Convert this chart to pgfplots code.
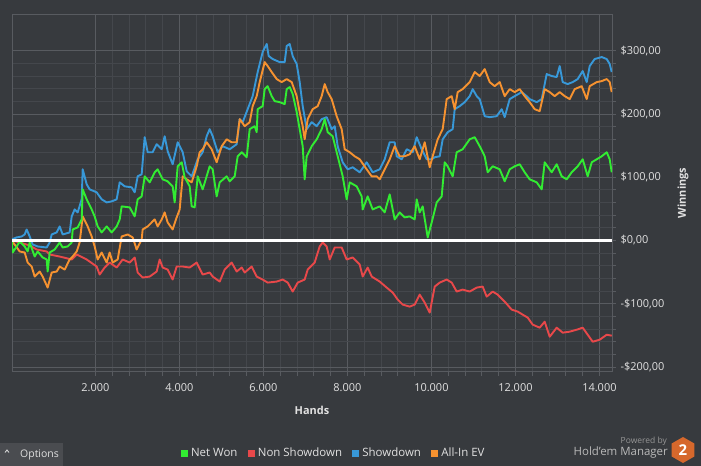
\documentclass[border=0pt]{standalone}
\usepackage{fontspec}
\setmainfont{Open Sans}
\usepackage{pgfplots}
\pgfplotsset{compat=1.18}
\definecolor{bg}{RGB}{55,58,62}
\definecolor{gridminor}{RGB}{68,71,76}
\definecolor{gridmajor}{RGB}{88,91,96}
\definecolor{txt}{RGB}{225,225,225}
\definecolor{cgreen}{RGB}{50,236,50}
\definecolor{cred}{RGB}{232,72,74}
\definecolor{cblue}{RGB}{56,152,216}
\definecolor{corange}{RGB}{246,146,48}
\definecolor{btn}{RGB}{74,76,80}
\definecolor{hm}{RGB}{214,104,44}
\begin{document}
\begin{tikzpicture}[x=1bp,y=1bp]
\fill[bg] (0,0) rectangle (701,466);
\path[use as bounding box] (0,0) rectangle (701,466);
\begin{axis}[
  at={(12bp,94.3bp)}, anchor=south west,
  scale only axis, width=600bp, height=357bp,
  xmin=15, xmax=14300, ymin=-207.5, ymax=357,
  scaled x ticks=false, scaled y ticks=false,
  axis line style={gridmajor, line width=0.9bp},
  grid=both,
  major grid style={gridmajor, line width=0.8bp},
  minor grid style={gridminor, line width=0.8bp},
  xtick={2000,4000,6000,8000,10000,12000,14000},
  xticklabels={2.000,4.000,6.000,8.000,10.000,12.000,14.000},
  minor x tick num=4,
  ytick={-200,-100,0,100,200,300},
  yticklabels={-\$200{,}00,-\$100{,}00,\$0{,}00,\$100{,}00,\$200{,}00,\$300{,}00},
  minor y tick num=4,
  xtick pos=bottom, ytick pos=right, yticklabel pos=right,
  tick align=outside, major tick length=4bp, minor tick length=4bp,
  tick style={gridmajor, line width=0.8bp},
  ticklabel style={font=\fontsize{11}{13}\selectfont, text=txt},
  xticklabel style={yshift=-4bp},
  yticklabel style={anchor=west, xshift=1bp},
  legend style={at={(0.536,-0.227)}, anchor=center, draw=none, fill=none,
    text=txt, font=\fontsize{11.5}{13}\selectfont,
    /tikz/every even column/.append style={column sep=8bp}},
  legend columns=4, legend cell align=left,
  legend image code/.code={\fill[#1] (0bp,-3bp) rectangle (6bp,3bp); \path (8bp,0bp);},
]
\addlegendimage{cgreen}\addlegendentry{Net Won}
\addlegendimage{cred}\addlegendentry{Non Showdown}
\addlegendimage{cblue}\addlegendentry{Showdown}
\addlegendimage{corange}\addlegendentry{All-In EV}

% Non Showdown
\addplot[cred, line width=1.9bp, line join=round, forget plot] coordinates {
(7,0) (198,-3.2) (436,-7.9) (602,-14.3) (840,-17.4) (912,-22.2) (1150,-25.4)
(1436,-30.1) (1555,-22.2) (1793,-30.1) (2031,-41.2) (2102,-53.9) (2221,-42.8)
(2340,-34.9) (2507,-42.8) (2650,-30.1) (2817,-34.9) (2936,-26.9) (3007,-50.7)
(3126,-58.6) (3293,-57.1) (3460,-49.1) (3531,-30.1) (3602,-42.8) (3721,-46)
(3840,-61.8) (3936,-41.2) (4079,-41.2) (4245,-42.8) (4412,-34.9) (4555,-53.9)
(4721,-50.7) (4793,-57.1) (4960,-65) (5079,-46) (5245,-34.9) (5364,-49.1)
(5483,-42.8) (5555,-50.7) (5721,-41.2) (5841,-57.1) (5983,-61.8) (6102,-66.6)
(6317,-65) (6460,-61.8) (6579,-66.6) (6698,-80.8) (6817,-66.6) (6983,-61.8)
(7055,-46) (7221,-34.9) (7340,-9.5) (7412,-3.2) (7507,-9.5) (7579,-30.1)
(7698,-11.1) (7864,-11.1) (7983,-30.1) (8126,-26.9) (8293,-38) (8364,-57.1)
(8483,-42.8) (8579,-57.1) (8769,-65) (8936,-74.5) (9079,-82.4) (9198,-93.5)
(9317,-101.4) (9483,-104.6) (9602,-101.4) (9721,-85.6) (9841,-98.3) (9960,-114.1)
(10079,-72.9) (10198,-66.6) (10364,-61.8) (10483,-66.6) (10602,-80.8) (10745,-77.7)
(10912,-80.8) (11079,-74.5) (11221,-72.9) (11317,-88.8) (11459,-80.8) (11578,-85.6)
(11745,-96.7) (11912,-109.4) (12055,-112.5) (12174,-117.3) (12293,-122) (12412,-133.1)
(12578,-137.9) (12697,-128.4) (12817,-152.2) (12983,-137.9) (13126,-145.8) (13293,-144.2)
(13459,-141.1) (13602,-137.9) (13721,-149) (13840,-160.1) (14007,-156.9) (14174,-149)
(14293,-150.6)
};

% Showdown
\addplot[cblue, line width=1.9bp, line join=round, forget plot] coordinates {
(7,1.6) (126,4.8) (245,6.3) (317,9.5) (364,17.4) (436,6.3) (507,-6.3) (626,-9.5)
(840,-11.1) (912,-3.2) (960,9.5) (1079,12.7) (1150,22.2) (1221,9.5) (1388,12.7)
(1436,38) (1507,49.1) (1579,44.4) (1674,65) (1698,112.5) (1793,88.8) (1864,80.8)
(2031,76.1) (2150,65) (2269,60.2) (2388,61.8) (2507,65) (2579,91.9) (2698,85.6)
(2864,84) (2936,76.1) (3007,101.4) (3102,104.6) (3174,163.3) (3245,139.5)
(3364,139.5) (3460,152.2) (3579,144.2) (3650,164.8) (3721,141.1) (3840,120.5)
(3960,155.3) (4079,139.5) (4174,109.4) (4293,101.4) (4436,128.4) (4555,139.5)
(4650,164.8) (4721,176) (4793,164.8) (4912,139.5) (5031,149) (5198,144.2)
(5364,152.2) (5436,191.8) (5507,187) (5626,207.6) (5745,228.2) (5864,266.3)
(5983,298) (6079,310.7) (6126,291.6) (6221,286.9) (6388,282) (6507,282)
(6555,307.5) (6626,310.7) (6698,291.6) (6793,279) (6864,250.4) (6936,212.4)
(7031,176) (7150,187) (7269,180.7) (7388,191.8) (7507,195) (7626,176)
(7698,180.7) (7769,149) (7888,123.6) (8007,112.5) (8126,115.7) (8293,107.8)
(8459,123.6) (8602,107.8) (8769,112.5) (8888,128.4) (9007,155.3) (9126,155.3)
(9174,133.1) (9293,128.4) (9412,144.2) (9555,139.5) (9650,163.3) (9769,144.2)
(9888,128.4) (10007,128.4) (10079,131.6) (10198,133.1) (10269,160) (10388,171.2)
(10507,176) (10555,207.6) (10674,212.4) (10793,218.7) (10912,228.2) (10983,239.3)
(11079,228.2) (11150,223.5) (11269,196.5) (11388,195) (11555,196.5) (11674,207.6)
(11745,195) (11864,223.5) (11983,228.2) (12150,234.6) (12269,228.2) (12340,223.5)
(12507,218.7) (12626,223.5) (12745,263.1) (12864,260) (12983,258.4) (13055,275.8)
(13126,250.4) (13245,247.3) (13364,250.4) (13483,255.2) (13602,267.9) (13698,250.4)
(13769,275.8) (13888,286.9) (14055,290) (14174,286.9) (14245,279) (14293,266.3)
};

% All-In EV
\addplot[corange, line width=1.9bp, line join=round, forget plot] coordinates {
(7,0) (198,-17.4) (317,-19) (388,-34.9) (483,-41.2) (555,-57.1) (674,-49.1)
(745,-57.1) (864,-74.5) (960,-50.7) (1079,-49.1) (1150,-41.2) (1269,-46)
(1388,-30.1) (1460,-25.4) (1555,-17.4) (1626,-3.2) (1698,38) (1817,22.2)
(1912,6.3) (1983,-9.5) (2055,-30.1) (2150,-19) (2269,-34.9) (2340,-19)
(2412,-34.9) (2531,-30.1) (2626,6.3) (2769,9.5) (2888,4.8) (2983,-14.3)
(3102,1.6) (3126,17.4) (3245,22.2) (3412,33.3) (3483,22.2) (3579,33.3)
(3650,44.4) (3721,28.5) (3840,17.4) (3936,36.5) (4007,49.1) (4079,101.4)
(4174,96.7) (4293,91.9) (4412,117.3) (4483,139.5) (4555,144.2) (4650,155.3)
(4769,144.2) (4888,123.6) (5007,149) (5126,160) (5245,155.3) (5364,155.3)
(5436,191.8) (5555,180.7) (5674,187) (5745,212.4) (5841,228.2) (5912,250.4)
(6031,282) (6102,275.8) (6198,266.3) (6317,255.2) (6436,250.4) (6555,255.2)
(6674,250.4) (6793,228.2) (6864,202.9) (6936,180.7) (6983,160) (7055,191.8)
(7174,207.6) (7293,212.4) (7388,228.2) (7460,247.3) (7531,234.6) (7626,223.5)
(7745,196.5) (7864,176) (7936,144.2) (8055,139.5) (8174,133.1) (8293,128.4)
(8459,112.5) (8579,101.4) (8698,101.4) (8769,96.7) (8888,112.5) (9007,128.4)
(9126,149) (9245,133.1) (9364,133.1) (9483,136.3) (9602,149) (9721,128.4)
(9841,155.3) (9960,115.7) (10031,133.1) (10150,160) (10269,176) (10364,223.5)
(10483,228.2) (10555,207.6) (10626,234.6) (10745,239.3) (10912,250.4) (11031,266.3)
(11150,260) (11269,271) (11388,250.4) (11507,244) (11626,250.4) (11745,228.2)
(11864,239.3) (11983,234.6) (12102,239.3) (12221,228.2) (12340,218.7) (12459,207.6)
(12578,204.5) (12697,239.3) (12817,234.6) (12936,228.2) (13055,234.6) (13174,228.2)
(13293,223.5) (13412,239.3) (13578,244) (13698,223.5) (13769,244) (13936,250.4)
(14055,252) (14174,255.2) (14245,250.4) (14293,234.6)
};

% Net Won
\addplot[cgreen, line width=1.9bp, line join=round, forget plot] coordinates {
(7,0) (31,-19) (126,-9.5) (198,-1.6) (317,-9.5) (388,-17.4) (436,-3.2) (555,-25.4)
(626,-17.4) (745,-26.9) (840,-30.1) (864,-49.1) (912,-19) (1031,-14.3) (1150,-3.2)
(1221,-11.1) (1340,-9.5) (1436,-3.2) (1460,17.4) (1579,20.6) (1674,33.3) (1698,80.8)
(1793,65) (1912,49.1) (1983,38) (2055,22.2) (2150,12.7) (2269,22.2) (2388,12.7)
(2507,22.2) (2579,33.3) (2626,53.9) (2817,52.3) (2936,38) (3007,65) (3102,69.7)
(3174,101.4) (3293,91.9) (3412,107.8) (3483,112.5) (3602,96.7) (3721,93.5)
(3840,85.6) (3888,60.2) (3960,117.3) (4055,123.6) (4126,99.9) (4245,85.6)
(4293,53.9) (4364,52.3) (4436,101.4) (4555,80.8) (4721,117.3) (4793,112.5)
(4888,69.7) (4960,91.9) (5126,101.4) (5198,93.5) (5317,101.4) (5388,133.1)
(5483,139.5) (5602,131.6) (5674,176) (5793,180.7) (5841,171.2) (5864,207.6)
(5983,212.4) (6031,239.3) (6102,244) (6198,228.2) (6269,220.3) (6388,218.7)
(6507,215.6) (6555,239.3) (6626,242.5) (6698,231.4) (6793,202.9) (6864,176)
(6936,149) (6983,96.7) (7031,133.1) (7150,149) (7269,160) (7388,176) (7460,191.8)
(7531,171.2) (7650,164.8) (7769,133.1) (7888,101.4) (7983,65) (8055,91.9)
(8221,85.6) (8340,69.7) (8364,49.1) (8483,69.7) (8602,49.1) (8769,53.9)
(8888,44.4) (9007,72.9) (9126,33.3) (9245,44.4) (9364,36.5) (9483,38)
(9602,33.3) (9650,65) (9721,44.4) (9793,53.9) (9912,4.8) (10007,28.5)
(10126,60.2) (10245,69.7) (10317,123.6) (10388,117.3) (10507,101.4) (10602,139.5)
(10745,144.2) (10912,160) (11031,163.3) (11150,149) (11269,133.1) (11340,107.8)
(11459,117.3) (11626,112.5) (11745,93.5) (11864,112.5) (11983,117.3) (12102,120.5)
(12221,107.8) (12340,96.7) (12507,91.9) (12626,80.8) (12697,123.6) (12864,107.8)
(12983,120.5) (13102,101.4) (13221,96.7) (13340,107.8) (13483,117.3) (13602,128.4)
(13721,101.4) (13817,123.6) (13936,128.4) (14055,133.1) (14174,139.5) (14245,128.4)
(14293,107.8)
};

% zero line
\addplot[white, line width=2.6bp, forget plot] coordinates {(15,0) (14300,0)};
\end{axis}

\node[text=txt, font=\bfseries\fontsize{11}{13}\selectfont] at (312,56) {Hands};
\node[text=txt, font=\bfseries\fontsize{11}{13}\selectfont, rotate=90] at (683,273) {Winnings};

% Options button
\fill[btn] (0,0) rectangle (62.6,23.3);
\draw[txt, line width=0.8bp] (5,13.5) -- (7,16) -- (9,13.5);
\node[text=txt, font=\fontsize{10.5}{12}\selectfont, anchor=west, inner sep=0] at (20,11) {Options};

% branding
\node[text={rgb,255:red,150;green,150;blue,150}, font=\fontsize{8.5}{10}\selectfont, anchor=east, inner sep=0] at (667,25) {Powered by};
\node[text={rgb,255:red,185;green,185;blue,185}, font=\fontsize{11.5}{13}\selectfont, anchor=east, inner sep=0] at (668,13) {Hold'em Manager};
\fill[hm] (683,29) -- (671.7,22.5) -- (671.7,9.5) -- (683,3) -- (694.3,9.5) -- (694.3,22.5) -- cycle;
\node[text=white, font=\bfseries\fontsize{15}{16}\selectfont, inner sep=0] at (683,16) {2};
\end{tikzpicture}
\end{document}
